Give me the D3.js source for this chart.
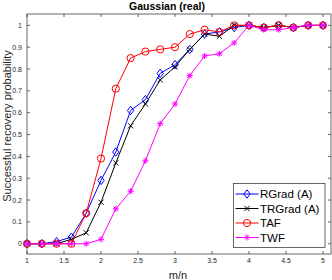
<!DOCTYPE html>
<html>
<head>
<meta charset="utf-8">
<script src="https://cdn.jsdelivr.net/npm/d3@7"></script>
<style>
  body { margin: 0; background: #fff; }
  text { font-family: "Liberation Sans", Arial, sans-serif; }
</style>
</head>
<body>
<svg id="chart" width="332" height="280"></svg>
<script>
// data
var ratios = [1, 1.2, 1.4, 1.6, 1.8, 2, 2.2, 2.4, 2.6, 2.8, 3, 3.2, 3.4, 3.6, 3.8, 4, 4.2, 4.4, 4.6, 4.8, 5];
var rgrad  = [0, 0, 0.01, 0.03, 0.14, 0.29, 0.42, 0.61, 0.66, 0.78, 0.82, 0.89, 0.96, 0.97, 0.99, 1, 0.99, 1, 0.99, 1, 1];
var trgrad = [0, 0, 0, 0.02, 0.05, 0.19, 0.37, 0.54, 0.64, 0.75, 0.81, 0.89, 0.96, 0.95, 1, 1, 0.99, 1, 0.99, 1, 1];
var taf    = [0, 0, 0, 0, 0.14, 0.39, 0.71, 0.85, 0.88, 0.89, 0.90, 0.96, 0.98, 0.97, 1, 1, 0.99, 1, 0.99, 1, 1];
var twf    = [0, 0, 0, 0, 0, 0.02, 0.16, 0.24, 0.38, 0.55, 0.64, 0.77, 0.86, 0.87, 0.92, 1, 0.98, 0.98, 0.99, 1, 1];
var xTicks = [1, 1.5, 2, 2.5, 3, 3.5, 4, 4.5, 5];
var yTicks = [0, 0.1, 0.2, 0.3, 0.4, 0.5, 0.6, 0.7, 0.8, 0.9, 1];

var series = [
  { name: "RGrad (A)",  vals: rgrad,  colour: "#0000ff", marker: "diamond" },
  { name: "TRGrad (A)", vals: trgrad, colour: "#000000", marker: "cross" },
  { name: "TAF",        vals: taf,    colour: "#ff0000", marker: "circle" },
  { name: "TWF",        vals: twf,    colour: "#ff00ff", marker: "star" }
];

var plotL = 27, plotR = 331, plotT = 14, plotB = 254;
var axisCol = "#262626";

var svg = d3.select("#chart");
var x = d3.scaleLinear().domain([1, 5.108]).range([plotL, plotR]);
var y = d3.scaleLinear().domain([-0.047, 1.052]).range([plotB, plotT]);

//axes box
svg.append("rect")
  .attr("x", plotL).attr("y", plotT)
  .attr("width", plotR - plotL).attr("height", plotB - plotT)
  .attr("fill", "none").attr("stroke", axisCol).attr("stroke-width", 0.7);

// inward ticks on all four sides, labels on left and bottom
var tl = 3;
svg.append("g").selectAll("path").data(xTicks).enter().append("path")
  .attr("d", function(d) {
    var px = x(d);
    return "M" + px + "," + plotB + "V" + (plotB - tl) + "M" + px + "," + plotT + "V" + (plotT + tl);
  })
  .attr("stroke", axisCol).attr("stroke-width", 0.7);
svg.append("g").selectAll("text").data(xTicks).enter().append("text")
  .attr("x", function(d) { return x(d); })
  .attr("y", 263)
  .attr("text-anchor", "middle")
  .style("font-size", "7px").attr("fill", axisCol)
  .text(function(d) { return d; });

svg.append("g").selectAll("path").data(yTicks).enter().append("path")
  .attr("d", function(d) {
    var py = y(d);
    return "M" + plotL + "," + py + "H" + (plotL + tl) + "M" + plotR + "," + py + "H" + (plotR - tl);
  })
  .attr("stroke", axisCol).attr("stroke-width", 0.7);
svg.append("g").selectAll("text").data(yTicks).enter().append("text")
  .attr("x", plotL - 5)
  .attr("y", function(d) { return y(d) + 2.5; })
  .attr("text-anchor", "end")
  .style("font-size", "7px").attr("fill", axisCol)
  .text(function(d) { return d; });

// titles
svg.append("text").attr("x", 167).attr("y", 9.5)
  .attr("text-anchor", "middle")
  .style("font-size", "10.5px").style("font-weight", "bold")
  .text("Gaussian (real)");
svg.append("text").attr("x", 178).attr("y", 278.5)
  .attr("text-anchor", "middle")
  .style("font-size", "11px").attr("fill", axisCol)
  .text("m/n");
svg.append("text")
  .attr("transform", "translate(10.5,126) rotate(-90)")
  .attr("text-anchor", "middle")
  .style("font-size", "11px").attr("fill", axisCol)
  .text("Successful recovery probability");

function drawMarker(g, type, colour) {
  if (type === "diamond") {
    g.append("path").attr("d", "M0,-4.2L3.2,0L0,4.2L-3.2,0Z")
      .attr("fill", "none").attr("stroke", colour).attr("stroke-width", 1);
  } else if (type === "circle") {
    g.append("circle").attr("r", 3.6)
      .attr("fill", "none").attr("stroke", colour).attr("stroke-width", 1);
  } else if (type === "cross") {
    g.append("path").attr("d", "M-2.6,-2.6L2.6,2.6M-2.6,2.6L2.6,-2.6")
      .attr("stroke", colour).attr("stroke-width", 1);
  } else if (type === "star") {
    g.append("path").attr("d", "M-3,0H3M0,-3V3M-2.2,-2.2L2.2,2.2M-2.2,2.2L2.2,-2.2")
      .attr("stroke", colour).attr("stroke-width", 1);
  }
}

var line = d3.line()
  .x(function(d, i) { return x(ratios[i]); })
  .y(function(d) { return y(d); });

series.forEach(function(s) {
  var g = svg.append("g");
  g.append("path").datum(s.vals)
    .attr("d", line)
    .attr("fill", "none").attr("stroke", s.colour).attr("stroke-width", 1);
  s.vals.forEach(function(v, i) {
    var m = g.append("g").attr("transform", "translate(" + x(ratios[i]) + "," + y(v) + ")");
    drawMarker(m, s.marker, s.colour);
  });
});

// legend
var lg = svg.append("g");
lg.append("rect")
  .attr("x", 233.5).attr("y", 183.5).attr("width", 91.5).attr("height", 64)
  .attr("fill", "#fff").attr("stroke", axisCol).attr("stroke-width", 0.7);
series.forEach(function(s, i) {
  var ly = 194 + i * 14.5;
  lg.append("path").attr("d", "M235.5," + ly + "H258.5")
    .attr("stroke", s.colour).attr("stroke-width", 1);
  drawMarker(lg.append("g").attr("transform", "translate(247," + ly + ")"), s.marker, s.colour);
  lg.append("text").attr("x", 260).attr("y", ly + 4)
    .style("font-size", "11.5px").attr("fill", "#000")
    .text(s.name);
});
</script>
</body>
</html>
